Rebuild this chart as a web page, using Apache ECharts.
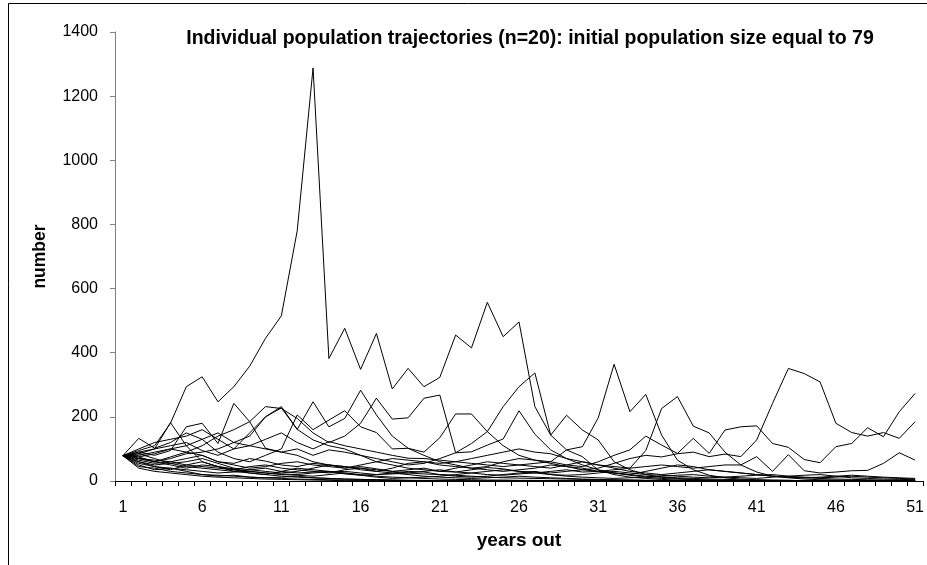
<!DOCTYPE html>
<html>
<head>
<meta charset="utf-8">
<script src="https://cdn.jsdelivr.net/npm/echarts@6/dist/echarts.min.js"></script>
<style>
html,body{margin:0;padding:0;background:#fff;}
#chart{width:927px;height:565px;}
</style>
</head>
<body>
<div id="chart"></div>
<script>
const years = Array.from({length: 51}, (_, i) => String(i + 1));
const yTicks = [0, 200, 400, 600, 800, 1000, 1200, 1400];
const titleText = 'Individual population trajectories (n=20): initial population size equal to 79';

const s1 = [79,95,110,180,294,325,247,294,358,445,515,780,1288,382,476,348,460,287,351,294,323,455,415,557,450,496,232,143,97,76,34,20,12,8,5,3,2,1,1,0,0,0,0,0,0,0,0,0,0,0,0];
const s2 = [79,70,60,75,90,80,60,55,70,62,50,45,55,50,40,45,38,30,35,40,30,28,35,42,38,30,28,25,30,35,40,55,70,80,75,85,90,76,84,76,128,242,351,335,309,180,151,140,151,133,185];
const s3 = [79,85,100,110,120,95,80,100,150,200,232,161,247,169,195,283,206,140,102,80,60,50,40,45,60,70,65,60,50,45,60,80,97,140,112,86,133,86,159,169,172,117,105,67,57,107,117,166,138,216,273];
const s4 = [79,60,45,40,35,30,25,28,30,25,22,20,25,28,30,25,20,22,25,30,35,28,25,20,18,22,25,30,35,28,30,35,40,45,50,45,40,45,50,50,76,30,82,32,25,28,32,33,55,88,65];
const s5 = [79,100,120,130,140,160,130,100,110,130,150,120,100,123,110,100,90,80,71,70,65,60,55,50,45,50,55,60,97,107,197,364,216,270,143,65,35,18,10,6,4,3,2,1,1,1,0,0,0,0,0];
const s6 = [79,80,90,100,110,130,150,120,110,100,90,100,80,97,90,80,70,60,50,55,70,88,117,154,232,294,337,143,205,159,128,60,35,20,12,8,5,3,2,1,1,0,0,0,0,0,0,0,0,0,0];
const s7 = [79,70,65,60,70,80,60,50,40,45,55,60,50,45,40,50,60,70,65,60,55,60,70,80,90,100,90,85,70,60,50,45,40,95,226,263,171,150,90,50,28,15,10,6,4,3,2,1,1,0,0];
const s8 = [79,90,80,95,169,180,117,242,185,102,90,80,60,50,45,40,35,30,25,22,20,18,15,12,10,9,8,7,6,5,4,3,3,2,2,1,1,1,0,0,0,0,0,0,0,0,0,0,0,0,0];
const s9 = [79,75,85,100,90,110,140,160,185,232,226,195,150,120,140,180,258,193,197,258,268,88,91,112,131,219,146,97,70,50,35,25,18,12,8,6,4,3,2,1,1,0,0,0,0,0,0,0,0,0,0];
const s10 = [79,133,102,120,150,130,90,70,60,80,100,206,160,190,219,169,151,100,102,90,135,209,209,154,110,80,65,55,45,40,30,25,20,15,12,10,8,6,5,4,3,2,2,1,1,1,0,0,0,0,0];
const s11 = [79,90,100,182,110,60,45,35,25,20,30,40,35,30,25,20,15,12,10,8,6,5,4,3,3,2,2,1,1,1,0,0,0,0,0,0,0,0,0,0,0,0,0,0,0,0,0,0,0,0,0];
const s12 = [79,70,60,70,85,90,100,120,140,200,228,161,128,110,100,80,60,50,40,35,30,40,50,60,55,50,45,40,50,60,50,40,30,25,20,25,30,35,30,25,20,15,12,10,8,6,5,4,3,2,2];
const s13 = [79,60,50,55,45,40,35,30,35,40,30,25,28,30,22,18,20,25,30,28,20,15,12,15,20,25,30,20,15,12,10,8,10,12,15,18,20,15,12,10,8,12,15,18,20,15,10,8,6,5,4];
const s14 = [79,50,35,40,30,20,15,18,12,10,8,6,5,4,3,2,2,1,1,1,0,0,0,0,0,0,0,0,0,0,0,0,0,0,0,0,0,0,0,0,0,0,0,0,0,0,0,0,0,0,0];
const s15 = [79,45,40,30,25,20,18,15,12,10,12,15,10,8,6,5,4,3,2,1,1,0,0,0,0,0,0,0,0,0,0,0,0,0,0,0,0,0,0,0,0,0,0,0,0,0,0,0,0,0,0];
const s16 = [79,65,55,60,50,45,40,35,45,50,40,35,30,25,35,40,30,25,20,15,12,10,8,10,12,15,12,10,8,6,5,4,3,2,2,1,1,0,0,0,0,0,0,0,0,0,0,0,0,0,0];
const s17 = [79,85,70,55,60,70,55,40,35,30,25,30,40,50,45,35,30,40,55,60,50,45,40,35,30,35,40,50,45,35,30,25,20,30,40,50,45,35,30,25,20,15,12,10,12,15,18,15,12,10,8];
const s18 = [79,40,30,25,20,15,12,10,8,6,5,4,3,2,1,1,0,0,0,0,0,0,0,0,0,0,0,0,0,0,0,0,0,0,0,0,0,0,0,0,0,0,0,0,0,0,0,0,0,0,0];
const s19 = [79,75,60,50,40,50,45,38,30,25,20,18,15,20,25,18,12,8,10,12,15,20,25,30,35,30,25,20,18,20,25,30,25,20,18,15,12,10,12,15,18,20,15,12,10,12,15,12,10,8,6];
const s20 = [79,55,45,35,50,60,45,30,25,20,15,12,10,8,6,5,4,3,2,2,1,1,0,0,0,0,0,0,0,0,0,0,0,0,0,0,0,0,0,0,0,0,0,0,0,0,0,0,0,0,0];

const allSeries = [s1,s2,s3,s4,s5,s6,s7,s8,s9,s10,s11,s12,s13,s14,s15,s16,s17,s18,s19,s20];

const chart = echarts.init(document.getElementById('chart'), null, {renderer: 'canvas'});
const FONT = 'Arial, "Liberation Sans", sans-serif';
chart.setOption({
  animation: false,
  backgroundColor: '#ffffff',
  title: {
    text: titleText,
    left: 525, top: 24, textAlign: 'center',
    textStyle: {fontFamily: FONT, fontWeight: 'bold', fontSize: 19.5, color: '#000'}
  },
  graphic: [{
    type: 'polyline',
    shape: {points: [[8.5, 566], [8.5, 3.5], [928, 3.5]]},
    style: {stroke: '#000', lineWidth: 1, fill: null},
    silent: true
  }],
  grid: {left: 115, right: 2, top: 32, bottom: 84, containLabel: false},
  xAxis: {
    type: 'category',
    data: years,
    boundaryGap: true,
    name: 'years out',
    nameLocation: 'middle',
    nameGap: 50,
    nameTextStyle: {fontFamily: FONT, fontWeight: 'bold', fontSize: 19, color: '#000'},
    axisLine: {lineStyle: {color: '#000', width: 1}},
    axisTick: {show: true, interval: 0, length: 5, inside: false, lineStyle: {color: '#000'}},
    axisLabel: {interval: 4, margin: 19, fontFamily: FONT, fontSize: 16, color: '#000'},
    splitLine: {show: false}
  },
  yAxis: {
    type: 'value',
    min: yTicks[0], max: yTicks[yTicks.length - 1], interval: 200,
    name: 'number',
    nameLocation: 'middle',
    nameGap: 66,
    nameRotate: 90,
    nameTextStyle: {fontFamily: FONT, fontWeight: 'bold', fontSize: 17.5, color: '#000'},
    axisLine: {show: true, lineStyle: {color: '#808080', width: 1}},
    axisTick: {show: true, length: 5, lineStyle: {color: '#808080'}},
    axisLabel: {margin: 17, fontFamily: FONT, fontSize: 16, color: '#000', formatter: v => String(v)},
    splitLine: {show: false}
  },
  series: allSeries.map((d, i) => ({
    name: 'run ' + (i + 1),
    type: 'line',
    data: d,
    symbol: 'none',
    lineStyle: {color: '#000', width: 1},
    z: 2
  }))
});
</script>
</body>
</html>
